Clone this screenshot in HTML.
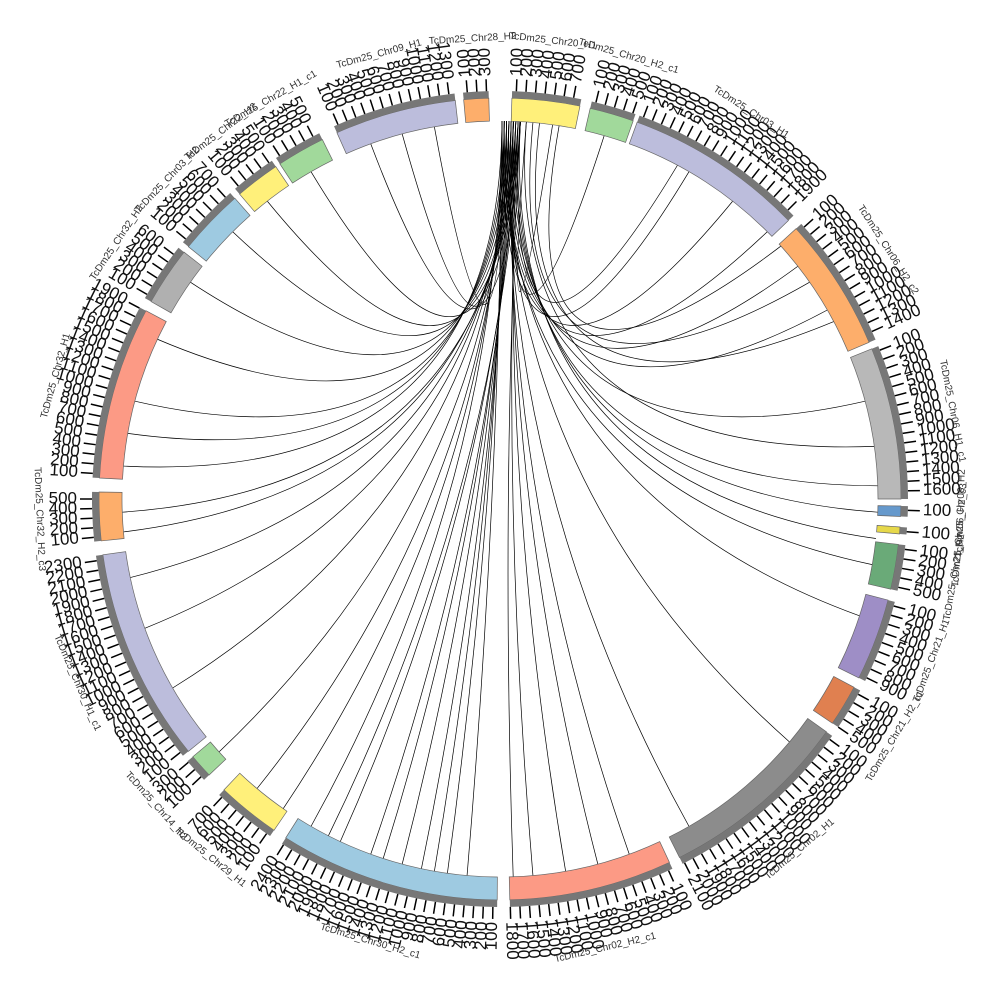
<!DOCTYPE html>
<html><head><meta charset="utf-8">
<style>
html,body{margin:0;padding:0;background:#fff;}
svg{display:block;}
text{font-family:"Liberation Sans",sans-serif;}
</style></head>
<body>
<svg id="c" width="1000" height="1000" viewBox="0 0 1000 1000" xmlns="http://www.w3.org/2000/svg">
<rect width="1000" height="1000" fill="#fff"/>
<g id="links" fill="none" stroke="#000" stroke-width="0.7"></g>
<g id="segs"></g>
<g id="ticks"></g>
<g id="names" fill="#333" font-size="10"></g>
</svg>
<script>
var CX=500,CY=499,RI=378,RO=401;
function P(a,r){var t=a*Math.PI/180;return [CX+r*Math.sin(t),CY-r*Math.cos(t)];}
var segs=[
[-5.2,-1.6,"#fdae6b","TcDm25_Chr28_H2"],
[1.7,11.5,"#fff07a","TcDm25_Chr20_H1"],
[13,19.4,"#a1d99b","TcDm25_Chr20_H2_c1"],
[20,46,"#bcbddc","TcDm25_Chr03_H1"],
[47.6,67,"#fdae6b","TcDm25_Chr06_H2_c2"],
[68,90,"#b8b8b8","TcDm25_Chr06_H1_c1"],
[91,92.5,"#6699cc","TcDm25_Chr06_H2"],
[94,95,"#e6d84a","TcDm25_Chr06_H2_c3"],
[96.5,103,"#6aaa78","TcDm25_Chr21_H2"],
[104.6,116.5,"#9e8ec6","TcDm25_Chr21_H1"],
[118,124,"#e08050","TcDm25_Chr21_H2_c1"],
[125.5,153.4,"#8c8c8c","TcDm25_Chr02_H1"],
[155,178.6,"#fc9a85","TcDm25_Chr02_H2_c1"],
[180.4,212.3,"#9ecae1","TcDm25_Chr30_H2_c1"],
[214.3,223.5,"#fff07a","TcDm25_Chr29_H1"],
[226.5,230,"#a1d99b","TcDm25_Chr14_H2"],
[231,262,"#bcbddc","TcDm25_Chr30_H1_c1"],
[264,271,"#fdae6b","TcDm25_Chr32_H2_c3"],
[273,298,"#fc9a85","TcDm25_Chr32_H1"],
[299.5,308,"#b0b0b0","TcDm25_Chr32_H2"],
[309,318.6,"#9ecae1","TcDm25_Chr03_H2"],
[319.5,326,"#fff07a","TcDm25_Chr22_H2"],
[326.7,333.7,"#a1d99b","TcDm25_Chr22_H1_c1"],
[336,353.6,"#bcbddc","TcDm25_Chr09_H1"]
];
var NS="http://www.w3.org/2000/svg";
function el(n,a,p){var e=document.createElementNS(NS,n);for(var k in a)e.setAttribute(k,a[k]);p.appendChild(e);return e;}
function arc(a0,a1,r0,r1){var p0=P(a0,r1),p1=P(a1,r1),p2=P(a1,r0),p3=P(a0,r0);var l=(a1-a0)>180?1:0;
return "M"+p0+" A"+r1+","+r1+" 0 "+l+" 1 "+p1+" L"+p2+" A"+r0+","+r0+" 0 "+l+" 0 "+p3+"Z";}
var G=document.getElementById("segs"),T=document.getElementById("ticks"),N=document.getElementById("names"),L=document.getElementById("links");
var tg=[30,38,45,52,60,75,88,92,96,100,108,130,150,160,165,170,175,178,185,188,190,192,195,198,200,205,207,210,215,220,228,240,250,258,265,268,275,280,285,295,305,315,322,330,340,345,350];
tg.forEach(function(b,i){var a=0.3+(i%9)*0.35;var p=P(a,RI),q=P(b,RI);
el("path",{d:"M"+p+" Q500,485 "+q},L);});
[[5,55],[6,62],[4,82],[9,48],[3,28],[2,16],[4,8]].forEach(function(x){var p=P(x[0],RI),q=P(x[1],RI);el("path",{d:"M"+p+" Q500,460 "+q},L);});
segs.forEach(function(s){
 el("path",{d:arc(s[0],s[1],RI,RO),fill:s[2],stroke:"#666","stroke-width":"0.7"},G);
 el("path",{d:arc(s[0],s[1],RO,RO+7),fill:"#777"},G);
 var n=0;
 for(var a=s[0]+0.6;a<s[1];a+=1.35){n++;
  var p=P(a,RO+7),q=P(a,RO+19);
  el("line",{x1:p[0],y1:p[1],x2:q[0],y2:q[1],stroke:"#000","stroke-width":"1.5"},T);
  var r=P(a,RO+22);var rot=a-90,anc="start";
  if(a>180){rot=a+90;anc="end";}
  var t=el("text",{x:r[0],y:r[1],"font-size":"17","dominant-baseline":"middle","text-anchor":anc,transform:"rotate("+rot+" "+r[0]+" "+r[1]+")",fill:"#111"},T);
  t.textContent=(n*100)+"";
 }
 var m=(s[0]+s[1])/2,pp=P(m,RO+60),rr=m;
 if(m>90&&m<270)rr=m+180;
 var t2=el("text",{x:pp[0],y:pp[1],"text-anchor":"middle","dominant-baseline":"middle",transform:"rotate("+rr+" "+pp[0]+" "+pp[1]+")"},N);
 t2.textContent=s[3];
});
</script>
</body></html>
